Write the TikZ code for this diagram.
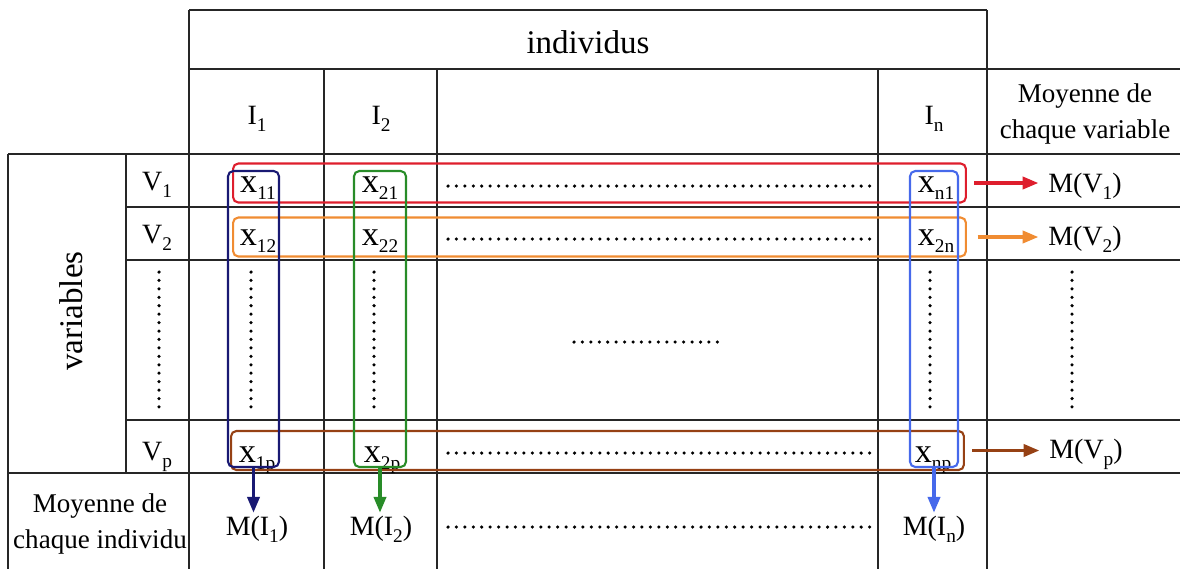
\documentclass[tikz,border=0pt]{standalone}
\usepackage{fontspec}
\setmainfont{Liberation Serif}
\usepackage{tikz}
\usetikzlibrary{arrows.meta, positioning}

\definecolor{rowred}{RGB}{222,30,45}
\definecolor{roworange}{RGB}{240,140,50}
\definecolor{rowbrown}{RGB}{150,65,20}
\definecolor{colnavy}{RGB}{25,25,115}
\definecolor{colgreen}{RGB}{40,140,40}
\definecolor{colblue}{RGB}{70,105,235}

\newcommand{\lowsub}[1]{\raisebox{-4.5pt}{\fontsize{11}{11}\selectfont #1}}

\begin{document}
\begin{tikzpicture}[
    x=0.02cm, y=-0.02cm,
    every node/.append style = {inner sep=1.5pt},
    tabline/.style = {line width=0.8pt, black!85},
    dotline/.style = {line width=2pt, line cap=round, dash pattern=on 0pt off 4.8pt},
    big/.style = {font=\fontsize{18.8}{22}\selectfont},
    cell/.style = {anchor=base, font=\fontsize{15.9}{19}\selectfont},
    xcell/.style = {anchor=base, font=\fontsize{19.5}{22}\selectfont},
    head/.style = {align=center, font=\fontsize{15.4}{21}\selectfont},
    rowbox/.style = {draw=#1, line width=1.2pt, rounded corners=3pt,
      minimum width=14.66cm, minimum height=0.78cm},
    colbox/.style = {draw=#1, line width=1.2pt, rounded corners=3pt,
      minimum height=5.92cm},
    meanarrow/.style = {draw=#1, line width=1.8pt, -{Triangle[length=9pt,width=7pt]}}
  ]
  \useasboundingbox (0,0) rectangle (1180,569);

  % table lines
  \draw[tabline] (189,10) -- (987,10);
  \draw[tabline] (189,69) -- (1180,69);
  \draw[tabline] (8,154) -- (1180,154);
  \foreach \y in {207,260,420} {
    \draw[tabline] (126,\y) -- (1180,\y);
  }
  \draw[tabline] (8,473) -- (1180,473);
  \draw[tabline] (8,154) -- (8,569);
  \draw[tabline] (126,154) -- (126,473);
  \foreach \x in {189,987} {
    \draw[tabline] (\x,10) -- (\x,569);
  }
  \foreach \x in {324,437,878} {
    \draw[tabline] (\x,69) -- (\x,569);
  }

  % headers
  \node[big] (indiv) at (588,42) {individus};
  \node[cell] (i1) at (257,124) {I\lowsub{1}};
  \node[cell] (i2) at (381,124) {I\lowsub{2}};
  \node[cell] (in) at (934,124) {I\lowsub{n}};
  \node[head] (mvhead) at (1085,114) {Moyenne de\\chaque variable};
  \node[big, rotate=90] (vars) at (71,311) {variables};
  \node[cell] (v1) at (157,190) {V\lowsub{1}};
  \node[cell] (v2) at (157,243) {V\lowsub{2}};
  \node[cell] (vp) at (157,460) {V\lowsub{p}};
  \node[head] (mihead) at (100,524) {Moyenne de\\chaque individu};

  % values
  \node[xcell] (x11) at (258,192) {x\lowsub{11}};
  \node[xcell] (x21) at (380,192) {x\lowsub{21}};
  \node[xcell] (xn1) at (936,192) {x\lowsub{n1}};
  \node[xcell] (x12) at (258,245) {x\lowsub{12}};
  \node[xcell] (x22) at (380,245) {x\lowsub{22}};
  \node[xcell] (x2n) at (936,245) {x\lowsub{2n}};
  \node[xcell] (x1p) at (257,462) {x\lowsub{1p}};
  \node[xcell] (x2p) at (382,462) {x\lowsub{2p}};
  \node[xcell] (xnp) at (933,462) {x\lowsub{np}};

  % means
  \node[cell] (mv1) at (1085,192) {M(V\lowsub{1})};
  \node[cell] (mv2) at (1085,245) {M(V\lowsub{2})};
  \node[cell] (mvp) at (1086,458) {M(V\lowsub{p})};
  \node[cell] (mi1) at (257,535) {M(I\lowsub{1})};
  \node[cell] (mi2) at (381,535) {M(I\lowsub{2})};
  \node[cell] (min) at (934,535) {M(I\lowsub{n})};

  % dots
  \foreach \y in {186,239,453,527} {
    \draw[dotline] (448,\y) -- (875,\y);
  }
  \draw[dotline] (574,342) -- (718,342);
  \foreach \x in {159,251,374,930,1072} {
    \draw[dotline] (\x,272) -- (\x,408);
  }

  % boxes
  \node[rowbox=rowred] (r1) at (599.5,183) {};
  \node[rowbox=roworange] (r2) at (599.5,237) {};
  \node[rowbox=rowbrown] (rp) at (597.5,450.5) {};
  \node[colbox=colnavy, minimum width=1.02cm] (c1) at (253.5,319) {};
  \node[colbox=colgreen, minimum width=1.04cm] (c2) at (380,319) {};
  \node[colbox=colblue, minimum width=0.96cm] (cn) at (934,319) {};

  % arrows
  \draw[meanarrow=rowred, shorten >=4pt] ([xshift=4pt]r1.east) -- (r1.east -| mv1.west);
  \draw[meanarrow=roworange, shorten >=4pt] ([xshift=6pt]r2.east) -- (r2.east -| mv2.west);
  \draw[meanarrow=rowbrown, shorten >=4pt] ([xshift=4pt]rp.east) -- (rp.east -| mvp.west);
  \draw[meanarrow=colnavy] (c1.south) -- (c1.south |- mi1.north);
  \draw[meanarrow=colgreen] (c2.south) -- (c2.south |- mi2.north);
  \draw[meanarrow=colblue] (cn.south) -- (cn.south |- min.north);
\end{tikzpicture}
\end{document}
